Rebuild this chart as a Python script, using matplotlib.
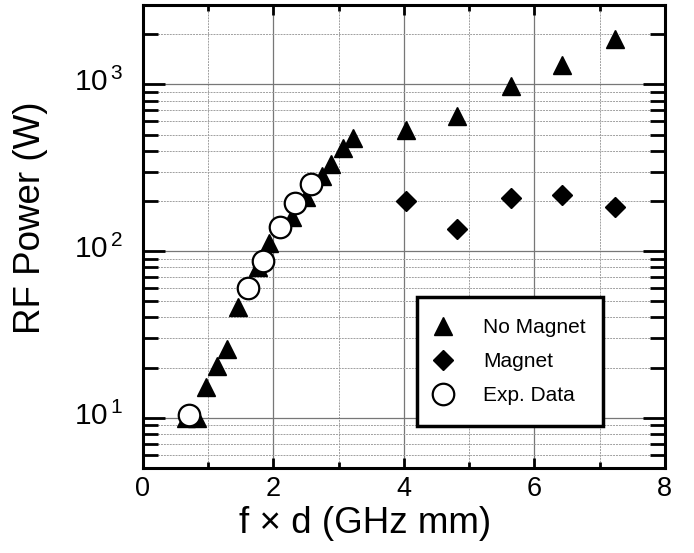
import math
import matplotlib
matplotlib.use("Agg")
import matplotlib.pyplot as plt
import matplotlib.transforms as mtransforms
from matplotlib.ticker import LogLocator, FixedLocator, NullFormatter, FuncFormatter

plt.rcParams['font.family'] = ['Liberation Sans', 'DejaVu Sans']
plt.rcParams['mathtext.fontset'] = 'custom'
plt.rcParams['mathtext.rm'] = 'Liberation Sans'
plt.rcParams['mathtext.it'] = 'Liberation Sans:italic'

# Data
no_magnet_x = [0.66, 0.83, 0.97, 1.13, 1.29, 1.45, 1.76, 1.93, 2.28, 2.50, 2.74, 2.89, 3.06, 3.22,
               4.03, 4.82, 5.64, 6.43, 7.23]
no_magnet_y = [10.0, 10.0, 15.3, 20.5, 25.9, 46, 80, 112, 160, 210, 281, 332, 414, 475,
               531, 643, 973, 1318, 1885]
magnet_x = [4.03, 4.82, 5.64, 6.43, 7.23]
magnet_y = [199, 135, 208, 216, 183]
exp_x = [0.70, 1.61, 1.84, 2.10, 2.33, 2.57]
exp_y = [10.4, 60, 87, 139, 194, 252]

xticks = [0, 2, 4, 6, 8]
xlabel = "f × d (GHz mm)"
ylabel = "RF Power (W)"

fig = plt.figure(figsize=(6.94, 5.53), dpi=100)
ax = fig.add_axes([0.206, 0.1537, 0.752, 0.8373])

ax.plot(no_magnet_x, no_magnet_y, linestyle='none', marker='^', ms=13, color='black',
        markeredgecolor='black', label='No Magnet', zorder=3)
ax.plot(magnet_x, magnet_y, linestyle='none', marker='D', ms=10.5, color='black',
        label='Magnet', zorder=3)
ax.plot(exp_x, exp_y, linestyle='none', marker='o', ms=15.5, markerfacecolor='white',
        markeredgecolor='black', markeredgewidth=1.6, label='Exp. Data', zorder=4)

ax.set_yscale('log')
ax.set_xlim(0, 8)
ax.set_ylim(5, 3000)

ax.xaxis.set_major_locator(FixedLocator(xticks))
ax.xaxis.set_minor_locator(FixedLocator([1, 3, 5, 7]))
ax.yaxis.set_major_locator(LogLocator(base=10, numticks=10))
ax.yaxis.set_minor_locator(LogLocator(base=10, subs=range(2, 10), numticks=20))
ax.yaxis.set_minor_formatter(NullFormatter())
ax.yaxis.set_major_formatter(FuncFormatter(
    lambda v, p: r'$\mathregular{10^{\,%d}}$' % round(math.log10(v))))

ax.tick_params(axis='both', which='both', direction='in', top=True, right=True,
               color='black')
ax.tick_params(axis='x', which='major', length=7, width=2, pad=6, labelsize=19.5)
ax.tick_params(axis='x', which='minor', length=4, width=2)
ax.tick_params(axis='y', which='major', length=16, width=2, pad=14.4, labelsize=21.5)
ax.tick_params(axis='y', which='minor', length=11, width=2)

ax.grid(True, which='major', color='#777777', linewidth=0.9, linestyle='-')
ax.grid(True, which='minor', color='#a0a0a0', linewidth=0.7, linestyle=(0, (2, 1)))
ax.set_axisbelow(True)

for s in ax.spines.values():
    s.set_linewidth(2.2)
    s.set_color('black')

ax.set_xlabel(xlabel, fontsize=26.5)
ax.set_ylabel(ylabel, fontsize=26.5)
ax.xaxis.set_label_coords(0.425, -0.083)
ax.yaxis.set_label_coords(-0.182, 0.54)

# nudge y tick labels up slightly so the digits sit on the gridline
offset = mtransforms.ScaledTranslation(0, 3.5 / 72, fig.dpi_scale_trans)
for t in ax.yaxis.get_major_ticks():
    t.label1.set_transform(t.label1.get_transform() + offset)

leg = ax.legend(loc='center', bbox_to_anchor=(0.525, 0.0907, 0.356, 0.278), mode='expand',
                fontsize=15, frameon=True, fancybox=False, framealpha=1, edgecolor='black',
                handlelength=0.5, handletextpad=1.67, labelspacing=0.72, borderpad=1.0,
                borderaxespad=0)
leg.get_frame().set_linewidth(2.5)

fig.savefig('out.png', dpi=100)
